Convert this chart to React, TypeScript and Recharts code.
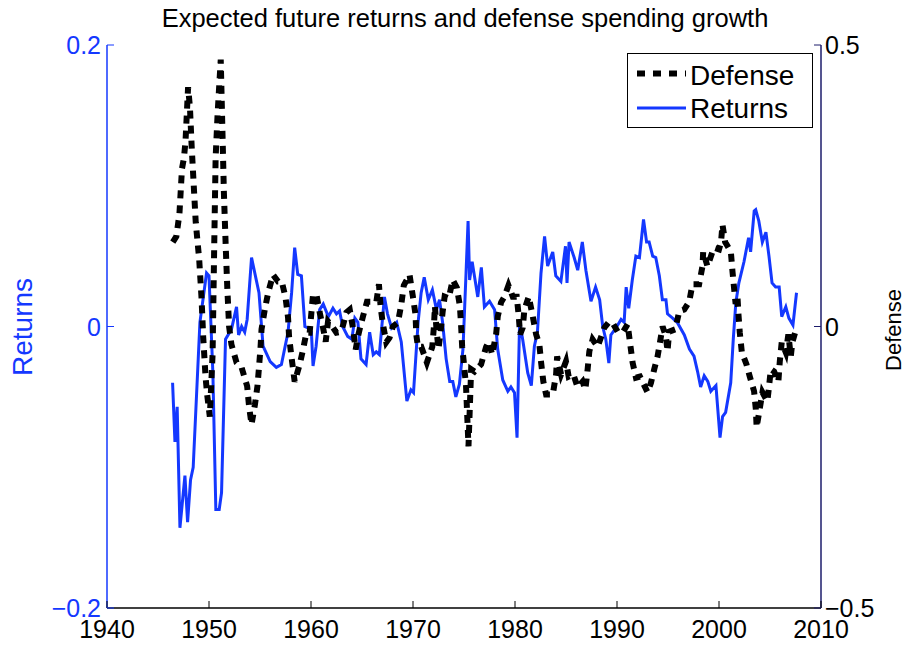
import React from 'react';
import { LineChart, Line, XAxis, YAxis } from 'recharts';

const FONT = '"Liberation Sans", Arial, Helvetica, sans-serif';
const BLUE = '#1438ff';
const NAVY = '#1c1c6b';

const xTicks = [1940, 1950, 1960, 1970, 1980, 1990, 2000, 2010];
const retTicks = [-0.2, 0, 0.2];
const defTicks = [-0.5, 0, 0.5];

const retYears = [
  1946.43, 1946.66, 1946.88, 1947.15, 1947.64, 1947.9, 1948.19, 1948.45, 1949.11, 1949.76,
  1950.0, 1950.38, 1950.67, 1951.0, 1951.23, 1951.62, 1952.2, 1952.7, 1952.9, 1953.2,
  1953.5, 1953.74, 1954.17, 1954.9, 1955.3, 1956.0, 1956.6, 1957.1, 1957.75, 1958.1,
  1958.4, 1958.7, 1959.06, 1959.4, 1959.7, 1960.04, 1960.2, 1960.5, 1960.85, 1961.2,
  1961.7, 1962.15, 1962.5, 1962.8, 1963.1, 1963.6, 1964.0, 1964.3, 1964.6, 1964.9,
  1965.4, 1965.75, 1966.1, 1966.4, 1966.7, 1967.2, 1967.5, 1967.9, 1968.4, 1968.85,
  1969.4, 1969.8, 1970.05, 1970.5, 1970.8, 1971.1, 1971.5, 1971.9, 1972.3, 1972.6,
  1972.9, 1973.25, 1973.6, 1973.9, 1974.2, 1974.55, 1974.9, 1975.2, 1975.4, 1975.55,
  1975.8, 1976.0, 1976.35, 1976.7, 1977.0, 1977.5, 1978.0, 1978.3, 1978.8, 1979.3,
  1979.6, 1979.95, 1980.2, 1980.45, 1980.75, 1981.25, 1981.6, 1981.9, 1982.2, 1982.55,
  1982.9, 1983.2, 1983.7, 1984.0, 1984.5, 1984.95, 1985.1, 1985.3, 1985.8, 1986.15,
  1986.6, 1986.95, 1987.45, 1987.9, 1988.3, 1988.6, 1988.9, 1989.2, 1989.4, 1989.9,
  1990.4, 1990.7, 1990.9, 1991.15, 1991.5, 1991.85, 1992.2, 1992.6, 1992.9, 1993.15,
  1993.5, 1993.8, 1994.15, 1994.45, 1994.8, 1994.95, 1995.45, 1995.9, 1996.6, 1997.1,
  1997.55, 1997.9, 1998.2, 1998.55, 1998.9, 1999.2, 1999.7, 2000.1, 2000.35, 2000.65,
  2001.15, 2001.4, 2001.65, 2001.95, 2002.45, 2002.9, 2003.1, 2003.45, 2003.6, 2003.9,
  2004.25, 2004.6, 2004.9, 2005.2, 2005.55, 2005.9, 2006.15, 2006.55, 2006.85, 2007.25,
  2007.6,
];
const retValues = [
  -0.04, -0.082, -0.057, -0.143, -0.106, -0.139, -0.109, -0.1, 0.003, 0.038,
  0.036, -0.033, -0.13, -0.13, -0.118, -0.009, -0.002, 0.014, -0.006, 0.0,
  -0.004, 0.005, 0.049, 0.024, -0.014, -0.025, -0.029, -0.027, -0.004, 0.024,
  0.056, 0.037, 0.036, 0.0, -0.001, -0.004, -0.028, -0.014, 0.012, 0.016,
  0.007, 0.013, 0.009, 0.011, 0.0, -0.007, -0.009, 0.006, 0.003, -0.023,
  -0.027, -0.004, -0.02, -0.018, -0.02, 0.021, 0.009, -0.001, 0.003, -0.011,
  -0.053, -0.045, -0.047, 0.003, 0.024, 0.035, 0.019, 0.026, 0.012, 0.019,
  0.003, -0.023, -0.039, -0.039, -0.05, -0.041, -0.016, 0.038, 0.075, 0.033,
  0.046, 0.037, 0.021, 0.042, 0.014, 0.018, 0.012, -0.016, -0.038, -0.046,
  -0.043, -0.047, -0.079, 0.003, -0.009, -0.033, -0.042, -0.014, -0.004, 0.038,
  0.064, 0.043, 0.053, 0.036, 0.032, 0.057, 0.031, 0.06, 0.049, 0.04,
  0.06, 0.04, 0.018, 0.028, 0.019, 0.0, -0.009, -0.026, -0.006, -0.001,
  0.005, 0.003, 0.028, 0.013, 0.033, 0.05, 0.049, 0.076, 0.06, 0.06,
  0.05, 0.049, 0.036, 0.019, 0.019, 0.009, 0.006, 0.003, -0.006, -0.016,
  -0.021, -0.032, -0.043, -0.035, -0.039, -0.046, -0.042, -0.079, -0.064, -0.061,
  -0.04, -0.009, 0.017, 0.031, 0.046, 0.063, 0.053, 0.082, 0.083, 0.075,
  0.06, 0.067, 0.05, 0.031, 0.028, 0.028, 0.007, 0.014, 0.006, 0.001,
  0.024,
];

const defYears = [
  1946.45, 1946.8, 1947.1, 1947.35, 1947.55, 1947.7, 1947.95, 1948.13, 1948.3, 1948.5,
  1948.7, 1949.04, 1949.27, 1949.43, 1949.66, 1949.82, 1950.08, 1950.35, 1950.5, 1950.65,
  1950.85, 1951.15, 1951.33, 1951.46, 1951.65, 1951.8, 1951.97, 1952.2, 1952.7, 1953.2,
  1953.74, 1953.93, 1954.17, 1954.5, 1954.75, 1954.9, 1955.05, 1955.15, 1955.47, 1955.8,
  1956.28, 1956.77, 1957.13, 1957.5, 1957.75, 1957.85, 1958.08, 1958.4, 1958.9, 1959.22,
  1959.55, 1959.87, 1960.04, 1960.2, 1960.53, 1960.85, 1961.18, 1961.44, 1961.67, 1962.16,
  1962.49, 1962.98, 1963.47, 1963.8, 1964.11, 1964.38, 1964.6, 1964.77, 1965.1, 1965.49,
  1965.92, 1966.4, 1966.66, 1966.83, 1967.05, 1967.38, 1967.7, 1968.03, 1968.52, 1968.85,
  1969.1, 1969.66, 1969.99, 1970.25, 1970.32, 1970.48, 1970.81, 1971.36, 1971.89, 1972.05,
  1972.15, 1972.3, 1972.5, 1972.7, 1972.9, 1973.1, 1973.5, 1973.9, 1974.3, 1974.6,
  1974.72, 1974.82, 1975.0, 1975.2, 1975.32, 1975.44, 1975.7, 1976.03, 1976.68, 1977.17,
  1977.43, 1977.76, 1978.15, 1978.31, 1978.64, 1978.97, 1979.36, 1979.78, 1980.17, 1980.37,
  1980.5, 1980.76, 1980.92, 1981.35, 1981.74, 1982.07, 1982.39, 1982.56, 1982.78, 1983.05,
  1983.7, 1984.03, 1984.13, 1984.52, 1985.0, 1985.26, 1985.72, 1986.14, 1986.63, 1986.9,
  1987.12, 1987.29, 1987.61, 1988.1, 1988.76, 1989.25, 1989.64, 1990.06, 1990.55, 1991.04,
  1991.3, 1991.53, 1991.86, 1992.25, 1993.0, 1993.33, 1993.65, 1993.98, 1994.14, 1994.47,
  1994.8, 1994.95, 1995.12, 1995.71, 1996.1, 1996.59, 1997.08, 1997.4, 1998.05, 1998.38,
  1998.45, 1998.87, 1999.5, 2000.0, 2000.2, 2000.34, 2000.6, 2001.16, 2001.32, 2001.49,
  2001.63, 2001.81, 2001.91, 2002.04, 2002.24, 2002.69, 2003.02, 2003.44, 2003.61, 2003.69,
  2004.26, 2004.74, 2004.91, 2005.08, 2005.4, 2005.82, 2005.96, 2006.15, 2006.55, 2006.8,
  2007.04, 2007.19, 2007.46, 2007.58,
];
const defValues = [
  0.15, 0.16, 0.2, 0.28, 0.3, 0.33, 0.425, 0.39, 0.32, 0.252,
  0.185, 0.119, 0.05, -0.018, -0.089, -0.121, -0.16, -0.05, 0.13, 0.3,
  0.38, 0.474, 0.337, 0.238, 0.137, 0.066, 0.0, -0.032, -0.064, -0.073,
  -0.106, -0.142, -0.174, -0.139, -0.106, -0.073, -0.038, -0.005, 0.03, 0.06,
  0.092, 0.08, 0.08, 0.052, 0.016, -0.018, -0.053, -0.098, -0.067, -0.041,
  -0.011, -0.011, 0.025, 0.057, 0.057, 0.025, -0.002, -0.027, 0.009, -0.002,
  -0.011, -0.009, 0.025, 0.03, -0.002, -0.041, -0.018, -0.005, 0.018, 0.044,
  0.044, 0.043, 0.075, 0.034, 0.004, -0.028, -0.02, 0.0, 0.007, 0.039,
  0.073, 0.092, 0.053, 0.021, -0.014, -0.036, -0.036, -0.064, -0.036, 0.0,
  0.036, -0.005, -0.04, -0.01, 0.025, 0.053, 0.05, 0.083, 0.069, 0.036,
  0.0, -0.036, -0.067, -0.106, -0.16, -0.213, -0.076, -0.08, -0.067, -0.036,
  -0.027, -0.05, -0.014, 0.018, 0.043, 0.053, 0.073, 0.053, 0.053, 0.018,
  -0.014, -0.002, 0.03, 0.053, 0.018, -0.014, -0.032, -0.064, -0.098, -0.121,
  -0.121, -0.085, -0.053, -0.085, -0.062, -0.089, -0.085, -0.108, -0.098, -0.112,
  -0.076, -0.044, -0.023, -0.036, -0.002, 0.009, 0.004, -0.009, -0.011, 0.004,
  -0.032, -0.064, -0.091, -0.089, -0.117, -0.1, -0.076, -0.053, -0.036, 0.0,
  -0.018, -0.044, -0.009, -0.005, 0.027, 0.03, 0.044, 0.075, 0.075, 0.107,
  0.133, 0.107, 0.14, 0.137, 0.15, 0.181, 0.15, 0.133, 0.098, 0.066,
  0.04, 0.053, 0.021, -0.011, -0.046, -0.067, -0.089, -0.115, -0.147, -0.179,
  -0.117, -0.133, -0.106, -0.076, -0.08, -0.098, -0.062, -0.028, -0.046, -0.014,
  -0.053, -0.028, -0.011, -0.005,
];

const retData = retYears.map((t, i) => ({ t, ret: retValues[i] }));
const defData = defYears.map((t, i) => ({ t, def: defValues[i] }));

const fmt = (v: number) => (v === 0 ? '0' : (v < 0 ? '\u2212' : '') + String(Math.abs(v)));

const BottomTick = (props: any) => {
  const { x, y, payload } = props;
  return (
    <g>
      <line x1={x} x2={x} y1={y} y2={y - 7} stroke="#000" strokeWidth={1} />
      <text x={x} y={y + 30} textAnchor="middle" fontSize={25} fontFamily={FONT} fill="#000">
        {payload.value}
      </text>
    </g>
  );
};

const TopTick = (props: any) => {
  const { x, y } = props;
  return <line x1={x} x2={x} y1={y} y2={y + 7} stroke="#000" strokeWidth={1} />;
};

const LeftTick = (props: any) => {
  const { x, y, payload } = props;
  return (
    <g>
      <line x1={x} x2={x + 7} y1={y} y2={y} stroke={BLUE} strokeWidth={1} />
      <text x={x - 6} y={y + 9} textAnchor="end" fontSize={25} fontFamily={FONT} fill={BLUE}>
        {fmt(payload.value)}
      </text>
    </g>
  );
};

const RightTick = (props: any) => {
  const { x, y, payload } = props;
  return (
    <g>
      <line x1={x} x2={x - 7} y1={y} y2={y} stroke={NAVY} strokeWidth={1} />
      <text x={x + 4} y={y + 9} textAnchor="start" fontSize={25} fontFamily={FONT} fill="#000">
        {fmt(payload.value)}
      </text>
    </g>
  );
};

export default function App() {
  return (
    <div style={{ position: 'relative', width: 894, height: 642, fontFamily: FONT }}>
      <LineChart width={894} height={642} margin={{ top: 37, right: 0, bottom: 0, left: 0 }}>
        <XAxis
          xAxisId={0}
          type="number"
          dataKey="t"
          domain={[1940, 2010]}
          ticks={xTicks}
          interval={0}
          allowDataOverflow
          height={42}
          tickSize={0}
          tickMargin={0}
          tickLine={false}
          axisLine={{ stroke: '#000', strokeWidth: 1.5 }}
          tick={<BottomTick />}
        />
        <XAxis
          xAxisId="top"
          orientation="top"
          type="number"
          dataKey="t"
          domain={[1940, 2010]}
          ticks={xTicks}
          interval={0}
          allowDataOverflow
          height={0}
          tickSize={0}
          tickMargin={0}
          tickLine={false}
          axisLine={{ stroke: '#000', strokeWidth: 1 }}
          tick={<TopTick />}
        />
        <YAxis
          yAxisId="ret"
          orientation="left"
          type="number"
          domain={[-0.2, 0.2]}
          ticks={retTicks}
          interval={0}
          allowDataOverflow
          width={99}
          tickSize={0}
          tickMargin={0}
          tickLine={false}
          axisLine={{ stroke: BLUE, strokeWidth: 1.5 }}
          tick={<LeftTick />}
        />
        <YAxis
          yAxisId="def"
          orientation="right"
          type="number"
          domain={[-0.5, 0.5]}
          ticks={defTicks}
          interval={0}
          allowDataOverflow
          width={81}
          tickSize={0}
          tickMargin={0}
          tickLine={false}
          axisLine={{ stroke: NAVY, strokeWidth: 1.5 }}
          tick={<RightTick />}
        />
        <Line
          data={retData}
          xAxisId={0}
          yAxisId="ret"
          dataKey="ret"
          type="linear"
          stroke={BLUE}
          strokeWidth={3}
          dot={false}
          isAnimationActive={false}
        />
        <Line
          data={defData}
          xAxisId={0}
          yAxisId="def"
          dataKey="def"
          type="linear"
          stroke="#000"
          strokeWidth={6}
          strokeDasharray="8 7"
          dot={false}
          isAnimationActive={false}
        />
      </LineChart>

      <svg
        width={910}
        height={650}
        style={{ position: 'absolute', left: -8, top: -8, pointerEvents: 'none', overflow: 'visible' }}
      >
        <text x={465} y={26.5} textAnchor="middle" fontSize={25.5} fontFamily={FONT} fill="#000">
          Expected future returns and defense spending growth
        </text>
        <text
          x={32}
          y={327}
          textAnchor="middle"
          fontSize={28}
          fontFamily={FONT}
          fill={BLUE}
          transform="rotate(-90 32 327)"
        >
          Returns
        </text>
        <text
          x={901}
          y={330}
          textAnchor="middle"
          fontSize={22}
          fontFamily={FONT}
          fill="#000"
          transform="rotate(-90 901 330)"
        >
          Defense
        </text>
        <g transform="translate(627 53)">
          <rect x={0.5} y={0.5} width={185} height={74} fill="#fff" stroke="#000" strokeWidth={1} />
          <line x1={10} x2={59} y1={20.5} y2={20.5} stroke="#000" strokeWidth={6} strokeDasharray="8 8" />
          <text x={63} y={32} fontSize={28} fontFamily={FONT} fill="#000">Defense</text>
          <line x1={10} x2={59} y1={55} y2={55} stroke={BLUE} strokeWidth={3} />
          <text x={63} y={65} fontSize={28} fontFamily={FONT} fill="#000">Returns</text>
        </g>
      </svg>
    </div>
  );
}
